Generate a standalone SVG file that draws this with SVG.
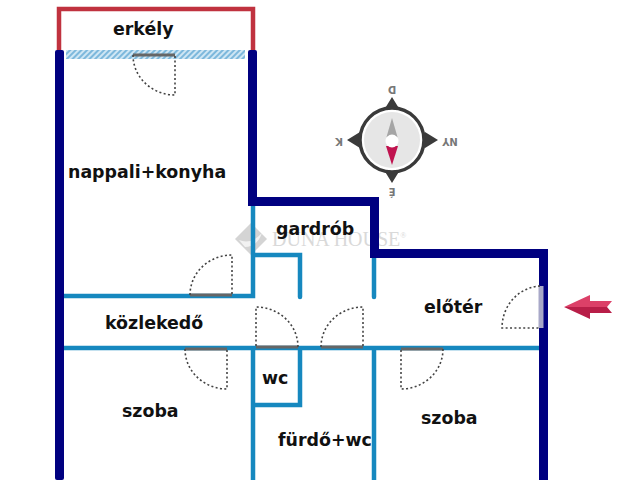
<svg xmlns="http://www.w3.org/2000/svg" width="640" height="480" viewBox="0 0 640 480">
<style>
.lbl{font-family:"DejaVu Sans",sans-serif;font-weight:700;font-size:17.4px;fill:#111}
.cmp{font-family:"DejaVu Sans",sans-serif;font-weight:700;font-size:10px;fill:#777;text-anchor:middle}
.nv{fill:#000080}
.bl{fill:none;stroke:#1688bf;stroke-width:4.5}
.leaf{fill:none;stroke:#666;stroke-width:3}
.sw{fill:none;stroke:#444;stroke-width:1.6;stroke-dasharray:2 2.4}
</style>
<defs>
<pattern id="hatch" width="4" height="4" patternUnits="userSpaceOnUse" patternTransform="rotate(45)">
<rect width="4" height="4" fill="#cfe6f4"/><rect width="2" height="4" fill="#7db8dc"/>
</pattern>
<g id="door"><path class="leaf" d="M0 0H42"/><path class="sw" d="M0 0A42 40 0 0 0 42 40V0"/></g>
</defs>
<rect width="640" height="480" fill="#fff"/>
<g id="watermark">
<path d="M251 223L267 239L251 255L235 239Z" fill="#d4d4d4"/>
<path d="M239 240Q251 245 262 233Q257 247 245 247Z" fill="#f2f2f2"/>
<text x="272" y="246" font-family="Liberation Serif,serif" font-size="20" fill="#d9d9d9">DUNA HOUSE<tspan font-size="8" dy="-8">®</tspan></text>
</g>
<g id="connectors">
<path fill="none" stroke="#c0323f" stroke-width="4.5" d="M59 51V9H253V51"/>
<rect x="66" y="50" width="179" height="9" fill="url(#hatch)"/>
<path class="bl" d="M64 296H253V206M253 255H300V297" stroke-linecap="round"/>
<path class="bl" d="M374 258V297" stroke-linecap="round"/>
<path class="bl" d="M64 348H540M253 348V480M300 348V405H253M374 348V480"/>
<rect class="nv" x="55" y="50" width="9" height="430" rx="2"/>
<rect class="nv" x="248" y="50" width="9" height="156" rx="2"/>
<path class="nv" d="M248 197H379V249H548V480H539V258H370V206H248Z"/>
</g>
<g id="doors">
<use href="#door" transform="translate(133 55)"/>
<use href="#door" transform="translate(190 295) scale(1 -1)"/>
<use href="#door" transform="translate(298 347) rotate(180)"/>
<use href="#door" transform="translate(321 347) scale(1 -1)"/>
<use href="#door" transform="translate(185 349)"/>
<use href="#door" transform="translate(443 349) scale(-1 1)"/>
<path d="M541 286V328" stroke="#a8a8c8" stroke-width="5" fill="none"/>
<path class="sw" d="M540 286A40 42 0 0 0 502 328H540"/>
</g>
<g id="compass">
<path d="M392 97L400 110H384ZM392 183L400 170H384ZM347 140L360 132V148ZM438 140L425 132V148Z" fill="#3a3a3a"/>
<circle cx="392" cy="140" r="32" fill="#fff" stroke="#3a3a3a" stroke-width="3.5"/>
<circle cx="392" cy="140" r="28" fill="#e6e6e6"/>
<path d="M392 118L397.5 137H386.500Z" fill="#a5a5a5"/>
<path d="M392 165L386 146H398Z" fill="#c0134f"/>
<circle cx="392" cy="141" r="6.500" fill="#fff"/>
<text class="cmp" transform="translate(392 86) rotate(180)">D</text>
<text class="cmp" transform="translate(339 138) rotate(180)">K</text>
<text class="cmp" transform="translate(450 138) rotate(180)">NY</text>
<text class="cmp" transform="translate(392 188) rotate(180)">É</text>
</g>
<g id="entry-arrow">
<path d="M564 307L590 295V301H612L607 307H564Z" fill="#dc4068"/>
<path d="M564 307L590 319V313H612L607 307Z" fill="#b81e48"/>
</g>
<g id="labels">
<text class="lbl" x="113" y="35">erkély</text>
<text class="lbl" x="68" y="178">nappali+konyha</text>
<text class="lbl" x="276" y="235">gardrób</text>
<text class="lbl" x="424" y="313">előtér</text>
<text class="lbl" x="105" y="329">közlekedő</text>
<text class="lbl" x="262" y="384">wc</text>
<text class="lbl" x="122" y="417">szoba</text>
<text class="lbl" x="421" y="424">szoba</text>
<text class="lbl" x="278" y="446">fürdő+wc</text>
</g>
</svg>
